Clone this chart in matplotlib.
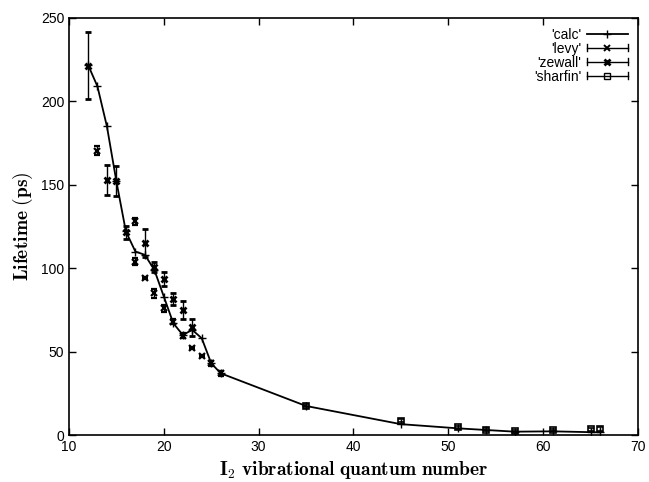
import matplotlib
matplotlib.use("Agg")
from matplotlib import pyplot as plt
from matplotlib.legend_handler import HandlerBase
from matplotlib.lines import Line2D

# calculated lifetimes
calc_v = [12, 13, 14, 15, 16, 17, 18, 19, 20, 21, 22, 23, 24, 25, 26,
          35, 45, 51, 54, 57, 61, 65, 66]
calc_t = [222, 209, 185, 152, 122, 110, 108, 99, 83, 67, 60, 63, 58, 43, 37,
          17.4, 6.5, 4.0, 3.0, 2.0, 2.2, 1.7, 1.6]

# levy data
levy_v = [13, 17, 17, 18, 19, 20, 21, 22, 23, 24, 25, 26]
levy_t = [170.5, 128, 104, 94, 85, 76, 68, 59.5, 52, 47.5, 43, 37]
levy_e = [2.5, 2, 2, 0.5, 2.7, 2, 1.5, 1.5, 0.5, 0.5, 1.5, 1.5]

# zewall data
zew_v = [12, 14, 15, 16, 18, 19, 20, 21, 22, 23]
zew_t = [221.5, 153, 152, 121.5, 115, 101, 93.5, 81.5, 75, 64.5]
zew_e = [20, 9, 9, 4, 8.5, 3, 4, 3.5, 5.5, 5]

# sharfin data
sh_v = [35, 45, 51, 54, 57, 61, 65, 66]
sh_t = [17.5, 8.6, 4.5, 3.2, 2.3, 3.0, 3.5, 3.6]
sh_e = [1.2, 1.0, 0.8, 0.8, 0.8, 0.8, 0.9, 0.9]


class GnuErrHandler(HandlerBase):
    # gnuplot-like key sample: horizontal bar with end ticks and the point
    def __init__(self, marker, mew, mfc="black"):
        super().__init__()
        self.marker, self.mew, self.mfc = marker, mew, mfc

    def create_artists(self, legend, orig_handle, xdescent, ydescent,
                       width, height, fontsize, trans):
        y = height / 2 - ydescent
        x0, x1 = -xdescent, width - xdescent
        c = height * 0.35
        arts = [
            Line2D([x0, x1], [y, y], color="black", lw=1.0),
            Line2D([x0, x0], [y - c, y + c], color="black", lw=1.0),
            Line2D([x1, x1], [y - c, y + c], color="black", lw=1.0),
            Line2D([(x0 + x1) / 2], [y], marker=self.marker, ms=5,
                   mew=self.mew, color="black", mfc=self.mfc),
        ]
        for a in arts:
            a.set_transform(trans)
        return arts


def main():
    plt.rcParams["mathtext.fontset"] = "cm"
    plt.rcParams["font.family"] = ["Liberation Sans", "DejaVu Sans"]
    fig = plt.figure(figsize=(6.49, 4.82), dpi=100)
    ax = fig.add_axes([0.1063, 0.0975, 0.8767, 0.8652])

    (l_calc,) = ax.plot(calc_v, calc_t, color="black", lw=1.3, marker="+",
                        ms=6, mew=1.0, label="'calc'")
    l_levy = ax.errorbar(levy_v, levy_t, yerr=levy_e, fmt="x", color="black",
                         ms=5, mew=1.6, elinewidth=1.0, capsize=2.5,
                         capthick=1.0, label="'levy'")
    l_zew = ax.errorbar(zew_v, zew_t, yerr=zew_e, fmt="x", color="black",
                        ms=5, mew=2.0, elinewidth=1.0, capsize=2.5,
                        capthick=1.0, label="'zewall'")
    l_sh = ax.errorbar(sh_v, sh_t, yerr=sh_e, fmt="s", color="black",
                       mfc="none", ms=5, mew=1.2, elinewidth=1.0,
                       capsize=2.5, capthick=1.0, label="'sharfin'")

    ax.set_xlim(10, 70)
    ax.set_ylim(0, 250)
    ax.set_xticks(range(10, 71, 10))
    ax.set_yticks(range(0, 251, 50))
    ax.tick_params(direction="in", top=True, right=True, labelsize=10,
                   length=5, width=1.0)
    for s in ax.spines.values():
        s.set_linewidth(1.2)

    ax.set_xlabel(r"$\mathbf{I_2\ vibrational\ quantum\ number}$",
                  fontsize=14, labelpad=4)
    ax.set_ylabel(r"$\mathbf{Lifetime\ (ps)}$", fontsize=14, labelpad=4)

    ax.legend([l_calc, l_levy, l_zew, l_sh],
              ["'calc'", "'levy'", "'zewall'", "'sharfin'"],
              handler_map={
                  l_levy: GnuErrHandler("x", 1.4),
                  l_zew: GnuErrHandler("x", 2.0),
                  l_sh: GnuErrHandler("s", 1.0, "none"),
              },
              loc="upper right", frameon=False, markerfirst=False,
              fontsize=10, labelspacing=0.0, handlelength=3.0,
              handletextpad=0.4, borderaxespad=0.3)

    fig.savefig("out.png", dpi=100)


if __name__ == "__main__":
    main()
